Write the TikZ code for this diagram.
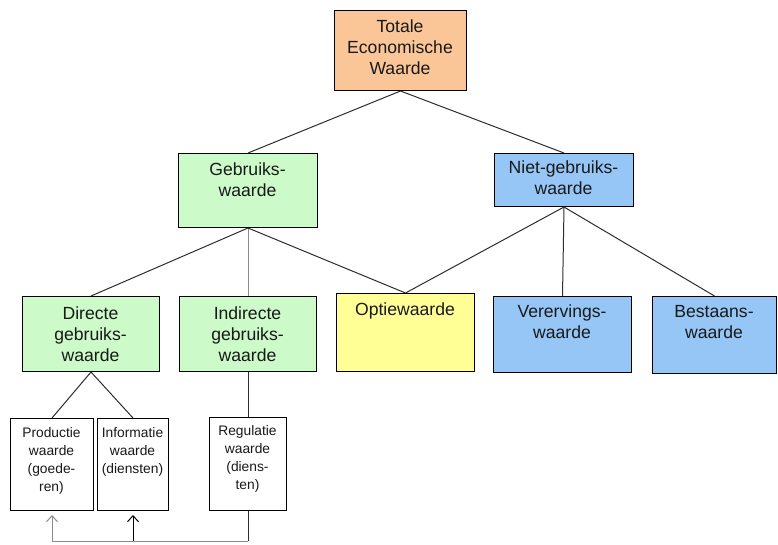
\documentclass[tikz,border=0pt]{standalone}
\usepackage{fontspec}
\setmainfont{Liberation Sans}
\usetikzlibrary{arrows.meta}
\definecolor{corange}{RGB}{250,198,152}
\definecolor{cgreen}{RGB}{204,250,200}
\definecolor{cblue}{RGB}{150,198,245}
\definecolor{cyellow}{RGB}{255,255,150}
\definecolor{lnc}{RGB}{45,45,45}
\tikzset{
  box/.style={draw=black, line width=1pt, inner sep=0pt, anchor=north west},
  bigtxt/.style={align=center, font=\fontsize{17.6}{21}\selectfont, text=black!90, inner sep=0pt},
  smalltxt/.style={align=center, font=\fontsize{13.8}{18}\selectfont, text=black!90, inner sep=0pt},
  conn/.style={draw=lnc, line width=1pt},
  uparrow/.style={conn, -{Straight Barb[length=6pt,width=11pt]}, shorten >=4pt}
}
\newcommand{\mybox}[6]{% name, x, y, w, h, fill
  \node[box, fill=#6, minimum width=#4pt, minimum height=#5pt] (#1) at (#2,-#3) {};}
\begin{document}
\begin{tikzpicture}[x=1pt,y=1pt]
\useasboundingbox (0,0) rectangle (778,-544);
% boxes
\mybox{tew}{334}{10}{132}{80}{corange}
\mybox{geb}{178}{153}{139}{74}{cgreen}
\mybox{niet}{494}{153}{139}{53}{cblue}
\mybox{dir}{22}{296}{137}{75}{cgreen}
\mybox{ind}{179}{296}{137}{75}{cgreen}
\mybox{opt}{336}{293}{138}{78}{cyellow}
\mybox{ver}{493}{296}{138}{76}{cblue}
\mybox{bes}{652}{296}{124}{77}{cblue}
\mybox{prod}{10}{418}{83}{92}{white}
\mybox{inf}{97}{418}{71}{92}{white}
\mybox{reg}{209}{417}{77}{93}{white}
% texts
\node[bigtxt] (ttew) at (400,-47) {Totale\\Economische\\Waarde};
\node[bigtxt] (tgeb) at (247.5,-180) {Gebruiks-\\waarde};
\node[bigtxt] (tniet) at (563.5,-178) {Niet-gebruiks-\\waarde};
\node[bigtxt] (tdir) at (90.5,-334) {Directe\\gebruiks-\\waarde};
\node[bigtxt] (tind) at (247.5,-334) {Indirecte\\gebruiks-\\waarde};
\node[bigtxt] (topt) at (405,-311) {Optiewaarde};
\node[bigtxt] (tver) at (562,-322) {Verervings-\\waarde};
\node[bigtxt] (tbes) at (714,-322) {Bestaans-\\waarde};
\node[smalltxt] (tprod) at (51.5,-461) {Productie\\waarde\\(goede-\\ren)};
\node[smalltxt] (tinf) at (132.5,-452) {Informatie\\waarde\\(diensten)};
\node[smalltxt] (treg) at (247.5,-459) {Regulatie\\waarde\\(diens-\\ten)};
% connectors
\draw[conn] (tew.south) -- (geb.north);
\draw[conn] (tew.south) -- (niet.north);
\draw[conn] (geb.south) -- (dir.north);
\draw[conn, draw=black!45] (geb.south) -- (ind.north);
\draw[conn] (geb.south) -- (opt.north);
\draw[conn] (niet.south) -- (opt.north);
\draw[conn] (niet.south) -- (ver.north);
\draw[conn] (niet.south) -- (bes.north);
\draw[conn] (dir.south) -- (prod.north);
\draw[conn] (dir.south) -- (inf.north);
\draw[conn] (ind.south) -- (reg.north);
% feedback arrows
\coordinate (br) at (reg.south |- 0,-541);
\coordinate (bl) at (prod.south |- 0,-541);
\coordinate (bm) at (inf.south |- 0,-541);
\draw[conn] (reg.south) -- (br);
\draw[conn, draw=black!45] (br) -- (bl);
\draw[uparrow, draw=black!45] (bl) -- (prod.south);
\draw[uparrow, draw=black] (bm) -- (inf.south);
\end{tikzpicture}
\end{document}
